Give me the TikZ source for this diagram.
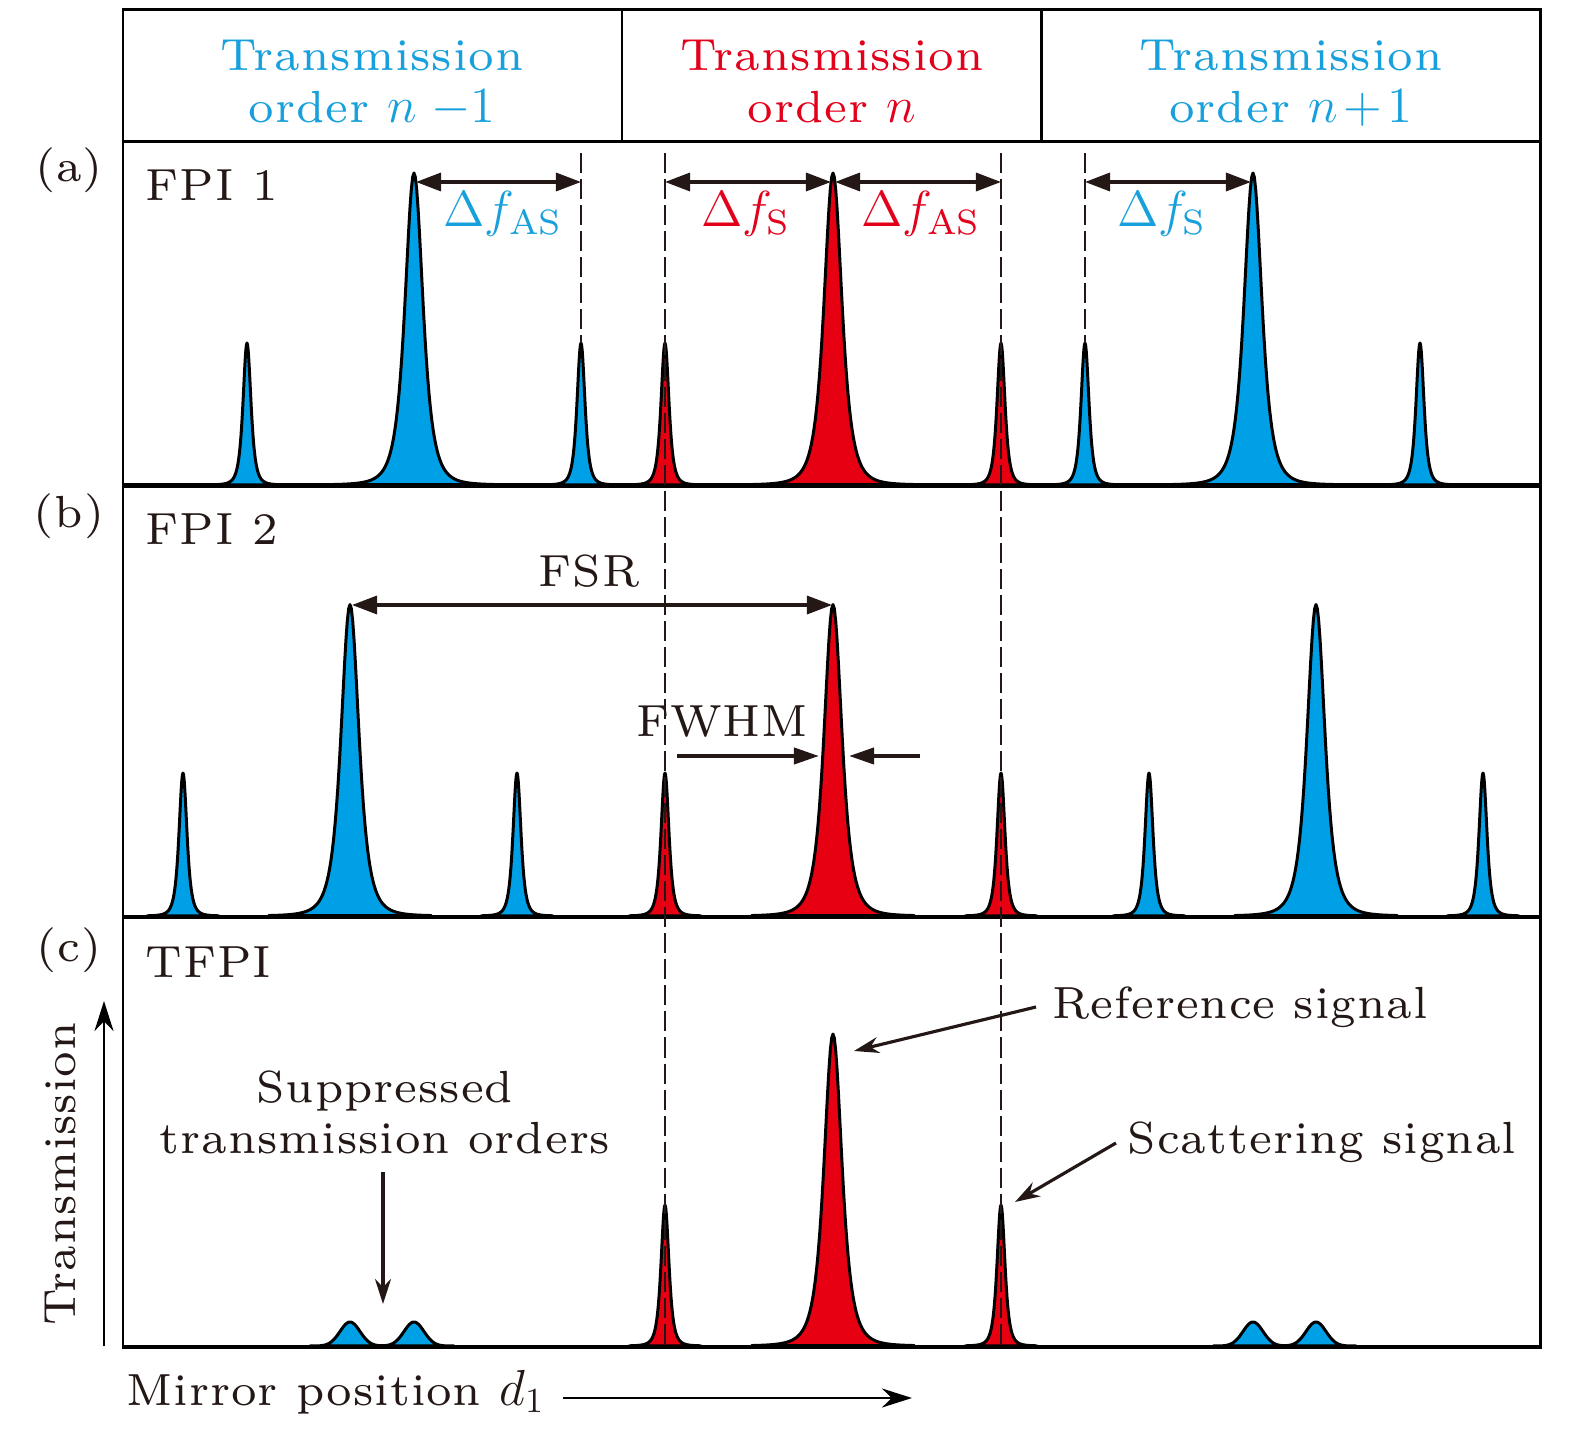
\documentclass[tikz,border=0pt]{standalone}
\usepackage{fontspec}
\setmainfont{lmroman7-regular.otf}[LetterSpace=2]
\usetikzlibrary{arrows.meta}
\definecolor{pblue}{HTML}{00A0E6}
\definecolor{pred}{HTML}{E60012}
\definecolor{tblue}{HTML}{17A0DB}
\definecolor{tred}{HTML}{E2001A}
\definecolor{ink}{HTML}{231815}
\newcommand\bigmath[1]{{\fontsize{14.4}{16}\selectfont$#1$}}
% peak: centre x, baseline y, height, width g, colour
\newcommand\pk[5]{%
  \filldraw[fill=#5,peakline] plot[domain={-5*#4}:{5*#4},samples=121]
    ({#1+\x},{#2-#3/((1+\x*\x/(#4*#4))*(1+\x*\x/(#4*#4)))}) -- cycle;}
% pair of small bumps: centre1, centre2, baseline, height
\newcommand\bumps[4]{%
  \filldraw[fill=pblue,peakline] plot[domain={#1-40}:{#2+40},samples=121]
    (\x,{#3-#4*(exp(-(\x-#1)*(\x-#1)/200)+exp(-(\x-#2)*(\x-#2)/200))}) -- cycle;}
\begin{document}
\begin{tikzpicture}[x=0.01cm,y=-0.01cm,
  every node/.style={font=\fontsize{12.8}{14}\selectfont, text=ink, inner sep=0pt},
  header/.style={align=center, anchor=north, font=\fontsize{12.8}{14.74}\selectfont},
  frame/.style={draw=black, line width=0.85pt},
  divider/.style={draw=black, line width=0.6pt},
  peakline/.style={draw=black, line width=0.85pt, line join=round},
  dashline/.style={draw=ink, line width=0.55pt, dash pattern=on 0.2cm off 0.06cm},
  dim/.style={draw=ink, line width=0.95pt, arrows={Triangle[length=2.5mm,width=1.8mm]-Triangle[length=2.5mm,width=1.8mm]}},
  onearrow/.style={draw=ink, line width=1.1pt, arrows={-Triangle[length=2.5mm,width=1.6mm]}},
  callout/.style={draw=ink, line width=0.9pt, arrows={-Stealth[length=2.5mm,width=1.6mm]}},
  axisarrow/.style={draw=black, line width=0.8pt, arrows={-Stealth[length=3mm,width=1.9mm]}}]
\useasboundingbox (0,0) rectangle (1575,1437);

% baselines of the traces
\draw[peakline] (123,485) -- (1540,485);
\draw[peakline] (123,916) -- (1540,916);
\draw[peakline] (123,1346) -- (1540,1346);

% panel (a)
\pk{247}{485}{142}{7.2}{pblue}
\pk{414}{485}{312}{16.3}{pblue}
\pk{581}{485}{142}{7.2}{pblue}
\pk{665}{485}{142}{7.2}{pred}
\pk{833}{485}{312}{16.3}{pred}
\pk{1001}{485}{142}{7.2}{pred}
\pk{1085}{485}{142}{7.2}{pblue}
\pk{1253}{485}{312}{16.3}{pblue}
\pk{1420}{485}{142}{7.2}{pblue}

% panel (b)
\pk{183}{916}{143}{7.2}{pblue}
\pk{350}{916}{311.5}{16.3}{pblue}
\pk{517}{916}{143}{7.2}{pblue}
\pk{665}{916}{143}{7.2}{pred}
\pk{833}{916}{311.5}{16.3}{pred}
\pk{1001}{916}{143}{7.2}{pred}
\pk{1149}{916}{143}{7.2}{pblue}
\pk{1316}{916}{311.5}{16.3}{pblue}
\pk{1483}{916}{143}{7.2}{pblue}

% panel (c)
\bumps{350}{414}{1346}{24}
\bumps{1253}{1316}{1346}{24}
\pk{665}{1346}{141}{7.2}{pred}
\pk{833}{1346}{312}{16.3}{pred}
\pk{1001}{1346}{141}{7.2}{pred}

% frame
\draw[frame] (123,10) rectangle (1540,1348);
\draw[frame] (123,141.7) -- (1540,141.7);
\draw[frame] (123,487) -- (1540,487);
\draw[frame] (123,918) -- (1540,918);
\draw[divider] (622,10) -- (622,141.7);
\draw[divider] (1041.5,10) -- (1041.5,141.7);

% dashed guide lines
\coordinate (d1t) at (581,153);   \coordinate (d1b) at (581,343);
\coordinate (d2t) at (665,153);   \coordinate (d2b) at (665,1346);
\coordinate (d3t) at (1001,153);  \coordinate (d3b) at (1001,1346);
\coordinate (d4t) at (1085,153);  \coordinate (d4b) at (1085,343);
\draw[dashline] (d1t) -- (d1b);
\draw[dashline] (d2t) -- (d2b);
\draw[dashline] (d3t) -- (d3b);
\draw[dashline] (d4t) -- (d4b);

% header texts
\node[header, text=tblue] (h1) at (372,39.5) {Transmission\\order \bigmath{n\;{-}1}};
\node[header, text=tred] (h2) at (832,39.5) {Transmission\\order \bigmath{n}};
\node[header, text=tblue] (h3) at (1291,39.5) {Transmission\\order \bigmath{n\mkern2mu{+}\mkern2mu1}};

% panel labels
\node[anchor=base] (la) at (69,182) {(a)};
\node[anchor=base] (lb) at (69,528) {(b)};
\node[anchor=base] (lc) at (69,962) {(c)};
\node[anchor=base west] (f1) at (145,201) {FPI 1};
\node[anchor=base west] (f2) at (145,545) {FPI 2};
\node[anchor=base west] (f3) at (145,978) {TFPI};

% panel (a) spacings
\coordinate (pa1) at (416,182); \coordinate (qa1) at (581,182);
\coordinate (pa2) at (665,182); \coordinate (qa2) at (831,182);
\coordinate (pa3) at (835,182); \coordinate (qa3) at (1001,182);
\coordinate (pa4) at (1085,182); \coordinate (qa4) at (1251,182);
\draw[dim] (pa1) -- (qa1);
\draw[dim] (pa2) -- (qa2);
\draw[dim] (pa3) -- (qa3);
\draw[dim] (pa4) -- (qa4);
\node[anchor=base, text=tblue] (s1) at (503,227) {\bigmath{\Delta f_{\mathrm{AS}}}};
\node[anchor=base, text=tred] (s2) at (746,227) {\bigmath{\Delta f_{\mathrm{S}}}};
\node[anchor=base, text=tred] (s3) at (921,227) {\bigmath{\Delta f_{\mathrm{AS}}}};
\node[anchor=base, text=tblue] (s4) at (1162,227) {\bigmath{\Delta f_{\mathrm{S}}}};

% panel (b) FSR and FWHM
\coordinate (fsrl) at (352,605); \coordinate (fsrr) at (832,605);
\draw[dim] (fsrl) -- (fsrr);
\node[anchor=base] (fsr) at (589,587) {FSR};
\node[anchor=base] (fwhm) at (722,737) {FWHM};
\coordinate (fw1s) at (677,756); \coordinate (fw1e) at (819,756);
\coordinate (fw2s) at (920,756); \coordinate (fw2e) at (849,756);
\draw[onearrow] (fw1s) -- (fw1e);
\draw[onearrow] (fw2s) -- (fw2e);

% panel (c) annotations
\node[anchor=base] (ref) at (1240,1019) {Reference signal};
\node[anchor=base] (sca) at (1322,1154) {Scattering signal};
\node[anchor=base] (sup1) at (385,1103) {Suppressed};
\node[anchor=base] (sup2) at (385,1153) {transmission orders};
\coordinate (refs) at (1036,1007); \coordinate (refe) at (854,1051);
\coordinate (scas) at (1116,1143); \coordinate (scae) at (1015,1202);
\coordinate (sups) at (383,1172);  \coordinate (supe) at (383,1304);
\draw[callout] (refs) -- (refe);
\draw[callout] (scas) -- (scae);
\draw[callout] (sups) -- (supe);

% axes
\node[anchor=base, rotate=90] (ty) at (75,1174) {Transmission};
\coordinate (tys) at (104,1346); \coordinate (tye) at (104,1001);
\draw[axisarrow] (tys) -- (tye);
\node[anchor=base west] (mx) at (126,1405) {Mirror position \bigmath{d_1}};
\coordinate (mxs) at (563,1398); \coordinate (mxe) at (912,1398);
\draw[axisarrow] (mxs) -- (mxe);
\end{tikzpicture}
\end{document}
